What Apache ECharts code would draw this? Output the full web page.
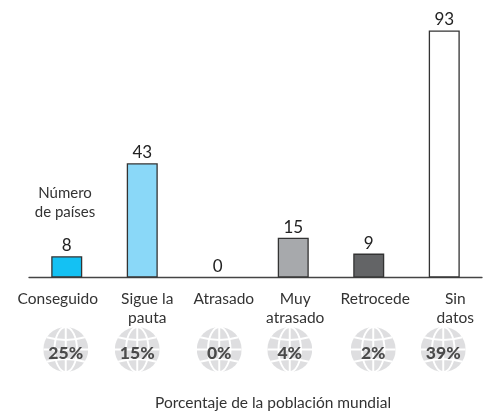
<!DOCTYPE html>
<html>
<head>
<meta charset="utf-8">
<style>html,body{margin:0;padding:0;background:#fff}#c{width:483px;height:413px}</style>
<script src="https://cdn.jsdelivr.net/npm/echarts@6/dist/echarts.min.js"></script>
</head>
<body>
<div id="c"></div>
<script>
const categories = ['Conseguido', 'Sigue la\npauta', 'Atrasado', 'Muy\natrasado', 'Retrocede', 'Sin\ndatos'];
const countries = [8, 43, 0, 15, 9, 93];
const population = [25, 15, 0, 4, 2, 39];
const barColors = ['#14c1f3', '#8ad8f8', '#ffffff', '#a7a9ac', '#636466', '#ffffff'];

// Layout only: horizontal nudges (px) of the printed labels and globes from their slot centres
const labelNudge = [-9, 5, 6, 2, 6.5, 11];
const globeNudge = [-1, -5, 1.5, -3.5, 4.5, -1];

const FONT = 'Lato, "Noto Sans", sans-serif';
const globeSvg = '<svg xmlns="http://www.w3.org/2000/svg" viewBox="0 0 46 46">' +
  '<circle cx="23" cy="23" r="23" fill="#d6d7d9"/>' +
  '<g fill="none" stroke="#fff" stroke-width="2">' +
  '<ellipse cx="23" cy="23" rx="11.5" ry="23"/>' +
  '<path d="M23 0V46M0 23H46M3.5 10.5Q23 16 42.5 10.5M3.5 35.5Q23 30 42.5 35.5"/>' +
  '</g></svg>';
const globe = 'image://data:image/svg+xml;charset=utf-8,' + encodeURIComponent(globeSvg);

const nudgeStyle = n => ({ padding: n >= 0 ? [0, 0, 0, 2 * n] : [0, -2 * n, 0, 0] });

const chart = echarts.init(document.getElementById('c'), null, { renderer: 'canvas' });
chart.setOption({
  animation: false,
  backgroundColor: '#fff',
  textStyle: { fontFamily: FONT },
  grid: [
    { left: 29, width: 453, top: 30.5, height: 247 },
    { left: 29, width: 453, top: 327, height: 45 }
  ],
  xAxis: [
    {
      type: 'category', gridIndex: 0,
      data: categories.map((c, i) => ({ value: c, textStyle: nudgeStyle(labelNudge[i]) })),
      axisTick: { show: false },
      axisLine: { lineStyle: { color: '#444', width: 1.3 } },
      axisLabel: { interval: 0, color: '#333', fontSize: 15.5, lineHeight: 19, margin: 12, fontFamily: FONT }
    },
    { type: 'category', gridIndex: 1, data: categories, show: false }
  ],
  yAxis: [
    { type: 'value', gridIndex: 0, min: 0, max: 93, show: false },
    { type: 'value', gridIndex: 1, min: -1, max: 1, show: false }
  ],
  series: [
    {
      type: 'bar', xAxisIndex: 0, yAxisIndex: 0, barWidth: 31,
      data: countries.map((v, i) => ({
        value: v,
        itemStyle: { color: barColors[i], borderColor: '#333', borderWidth: v === 0 ? 0 : 1.3 }
      })),
      label: { show: true, position: 'top', distance: 2, color: '#222', fontSize: 17, fontFamily: FONT }
    },
    {
      type: 'scatter', xAxisIndex: 1, yAxisIndex: 1, symbol: globe, symbolSize: 45, silent: true,
      data: population.map((p, i) => ({ value: [i, 0], symbolOffset: [globeNudge[i], 0] })),
      label: {
        show: true, position: 'inside', color: '#222', fontSize: 17.5, fontWeight: 900, fontFamily: FONT,
        formatter: params => population[params.dataIndex] + '%'
      },
      labelLayout: { dy: 4 }
    }
  ],
  graphic: [
    { type: 'text', x: 65, y: 184, style: { text: 'Número\nde países', fill: '#333', font: '15px ' + FONT, lineHeight: 19, align: 'center' } },
    { type: 'text', x: 155, y: 395, style: { text: 'Porcentaje de la población mundial', fill: '#333', font: '15.5px ' + FONT } }
  ]
});
</script>
</body>
</html>
